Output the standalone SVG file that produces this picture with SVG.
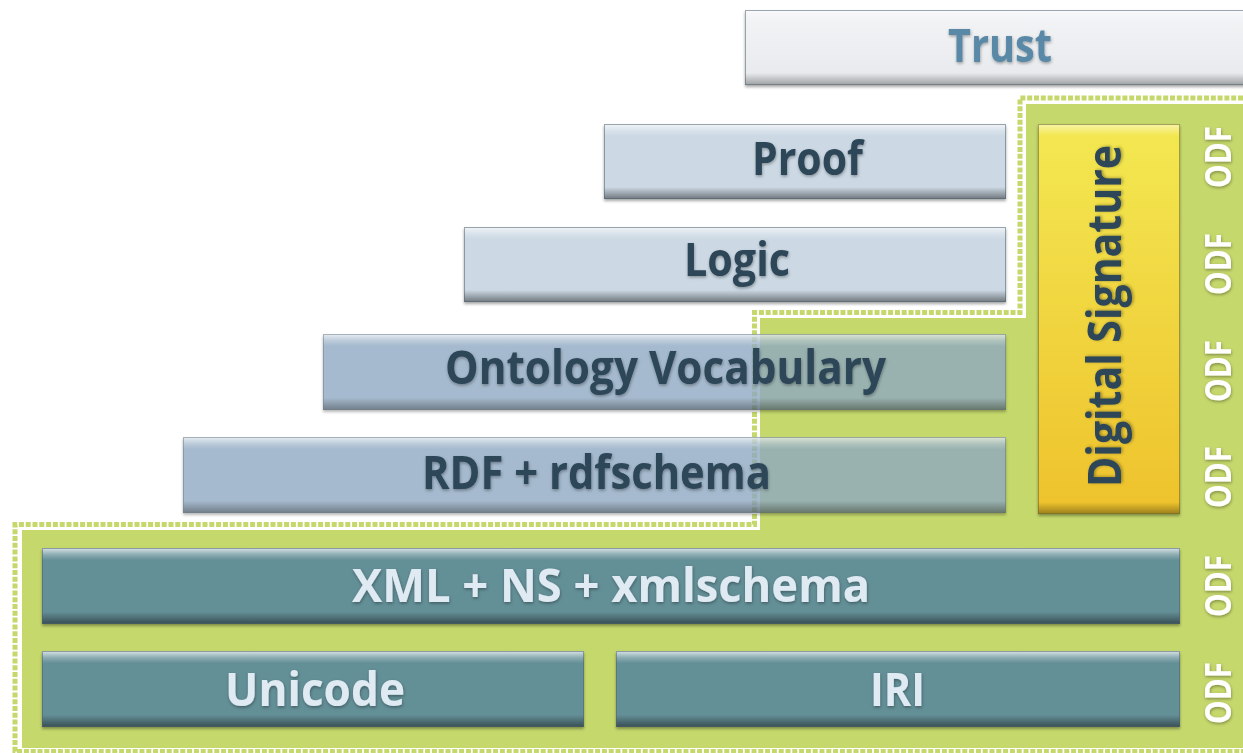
<svg xmlns="http://www.w3.org/2000/svg" width="1243" height="753" viewBox="0 0 1243 753">
<style>
.lbl{font-family:"Open Sans","Liberation Sans",sans-serif;font-weight:700;font-size:46px;text-anchor:middle}
.dark{fill:#2d4658}
.light{fill:#e0eaf3}
.trust{fill:#5a89a7}
.odf{font-family:"Open Sans","Liberation Sans",sans-serif;font-weight:700;font-size:36px;text-anchor:middle;fill:#ffffff}
.bev{fill:url(#bevel)}
.edge{fill:none;stroke:#4f6270;stroke-opacity:0.55;stroke-width:1}
</style>
<defs>
<linearGradient id="bevel" x1="0" y1="0" x2="0" y2="1">
<stop offset="0" stop-color="#ffffff" stop-opacity="0.75"/>
<stop offset="0.09" stop-color="#ffffff" stop-opacity="0.25"/>
<stop offset="0.16" stop-color="#ffffff" stop-opacity="0"/>
<stop offset="0.84" stop-color="#000000" stop-opacity="0"/>
<stop offset="0.91" stop-color="#000000" stop-opacity="0.2"/>
<stop offset="1" stop-color="#000000" stop-opacity="0.45"/>
</linearGradient>
<linearGradient id="ybevel" x1="0" y1="0" x2="0" y2="1">
<stop offset="0" stop-color="#ffffff" stop-opacity="0.5"/>
<stop offset="0.03" stop-color="#ffffff" stop-opacity="0"/>
<stop offset="0.97" stop-color="#000000" stop-opacity="0"/>
<stop offset="1" stop-color="#000000" stop-opacity="0.35"/>
</linearGradient>
<linearGradient id="yellow" x1="0" y1="0" x2="0" y2="1">
<stop offset="0" stop-color="#f3e852"/>
<stop offset="1" stop-color="#eec22c"/>
</linearGradient>
<linearGradient id="trustg" x1="0" y1="0" x2="0" y2="1">
<stop offset="0" stop-color="#f3f4f6"/>
<stop offset="1" stop-color="#e6e9ec"/>
</linearGradient>
<filter id="sh" x="-5%" y="-20%" width="110%" height="150%">
<feDropShadow dx="0" dy="2" stdDeviation="1.5" flood-color="#000000" flood-opacity="0.35"/>
</filter>
<filter id="tsh" x="-10%" y="-30%" width="120%" height="160%">
<feDropShadow dx="0.5" dy="1.5" stdDeviation="1.4" flood-color="#000000" flood-opacity="0.35"/>
</filter>
</defs>
<rect width="1243" height="753" fill="#ffffff"/>

<g id="odf-region">
<path d="M1026,104 H1243 V748 H22 V530 H760 V318 H1026 Z" fill="#c5d86c"/>
<path d="M1243,98 H1020 V312.5 H754.5 V524.5 H15 V751.5 H1243" fill="none" stroke="#c5d86c" stroke-width="5" stroke-dasharray="5 1.8"/>
</g>

<g id="trust">
<g filter="url(#sh)">
<rect x="745" y="10" width="510" height="75" fill="url(#trustg)"/>
<rect x="745" y="10" width="510" height="75" class="bev" opacity="0.7"/>
<rect x="745.5" y="10.5" width="510" height="74" class="edge"/>
</g>
<text class="lbl trust" x="1000" y="62" textLength="104" lengthAdjust="spacingAndGlyphs" filter="url(#tsh)">Trust</text>
</g>

<g id="proof">
<g filter="url(#sh)">
<rect x="604" y="124" width="402" height="75" fill="#ccd9e4"/>
<rect x="604" y="124" width="402" height="75" class="bev"/>
<rect x="604.5" y="124.5" width="401" height="74" class="edge"/>
</g>
<text class="lbl dark" x="807.5" y="175" textLength="111" lengthAdjust="spacingAndGlyphs" filter="url(#tsh)">Proof</text>
</g>

<g id="logic">
<g filter="url(#sh)">
<rect x="464" y="227" width="542" height="75" fill="#ccd9e4"/>
<rect x="464" y="227" width="542" height="75" class="bev"/>
<rect x="464.5" y="227.5" width="541" height="74" class="edge"/>
</g>
<text class="lbl dark" x="737" y="276" textLength="106" lengthAdjust="spacingAndGlyphs" filter="url(#tsh)">Logic</text>
</g>

<g id="ontology">
<g opacity="0.8" filter="url(#sh)">
<rect x="323" y="334" width="683" height="76" fill="#8fa9c2"/>
<rect x="323" y="334" width="683" height="76" class="bev"/>
<rect x="323.5" y="334.5" width="682" height="75" class="edge"/>
</g>
<text class="lbl dark" x="665.5" y="384" textLength="441" lengthAdjust="spacingAndGlyphs" filter="url(#tsh)">Ontology Vocabulary</text>
</g>

<g id="rdf">
<g opacity="0.8" filter="url(#sh)">
<rect x="183" y="437" width="823" height="76" fill="#8fa9c2"/>
<rect x="183" y="437" width="823" height="76" class="bev"/>
<rect x="183.5" y="437.5" width="822" height="75" class="edge"/>
</g>
<text class="lbl dark" x="596.5" y="489" textLength="349" lengthAdjust="spacingAndGlyphs" filter="url(#tsh)">RDF + rdfschema</text>
</g>

<g id="digital-signature">
<g filter="url(#sh)">
<rect x="1038" y="124" width="142" height="390" fill="url(#yellow)"/>
<rect x="1038" y="124" width="142" height="390" fill="url(#ybevel)"/>
<rect x="1038.5" y="124.5" width="141" height="389" fill="none" stroke="#6c6a2a" stroke-opacity="0.6"/>
</g>
<text class="lbl dark" x="0" y="0" transform="translate(1121,316) rotate(-90)" textLength="342" lengthAdjust="spacingAndGlyphs" filter="url(#tsh)">Digital Signature</text>
</g>

<g id="xml">
<g filter="url(#sh)">
<rect x="42" y="548" width="1138" height="76" fill="#648f97"/>
<rect x="42" y="548" width="1138" height="76" class="bev"/>
<rect x="42.5" y="548.5" width="1137" height="75" class="edge"/>
</g>
<text class="lbl light" x="611" y="602" textLength="518" lengthAdjust="spacingAndGlyphs" filter="url(#tsh)">XML + NS + xmlschema</text>
</g>

<g id="unicode">
<g filter="url(#sh)">
<rect x="42" y="651" width="542" height="76" fill="#648f97"/>
<rect x="42" y="651" width="542" height="76" class="bev"/>
<rect x="42.5" y="651.5" width="541" height="75" class="edge"/>
</g>
<text class="lbl light" x="315" y="706" textLength="180" lengthAdjust="spacingAndGlyphs" filter="url(#tsh)">Unicode</text>
</g>

<g id="iri">
<g filter="url(#sh)">
<rect x="616" y="651" width="564" height="76" fill="#648f97"/>
<rect x="616" y="651" width="564" height="76" class="bev"/>
<rect x="616.5" y="651.5" width="563" height="75" class="edge"/>
</g>
<text class="lbl light" x="897.5" y="706" textLength="55" lengthAdjust="spacingAndGlyphs" filter="url(#tsh)">IRI</text>
</g>

<g id="odf-labels" filter="url(#tsh)">
<text class="odf" transform="translate(1231,157) rotate(-90)" textLength="62" lengthAdjust="spacingAndGlyphs">ODF</text>
<text class="odf" transform="translate(1231,264) rotate(-90)" textLength="62" lengthAdjust="spacingAndGlyphs">ODF</text>
<text class="odf" transform="translate(1231,371) rotate(-90)" textLength="62" lengthAdjust="spacingAndGlyphs">ODF</text>
<text class="odf" transform="translate(1231,477) rotate(-90)" textLength="62" lengthAdjust="spacingAndGlyphs">ODF</text>
<text class="odf" transform="translate(1231,586) rotate(-90)" textLength="62" lengthAdjust="spacingAndGlyphs">ODF</text>
<text class="odf" transform="translate(1231,693) rotate(-90)" textLength="62" lengthAdjust="spacingAndGlyphs">ODF</text>
</g>
</svg>
